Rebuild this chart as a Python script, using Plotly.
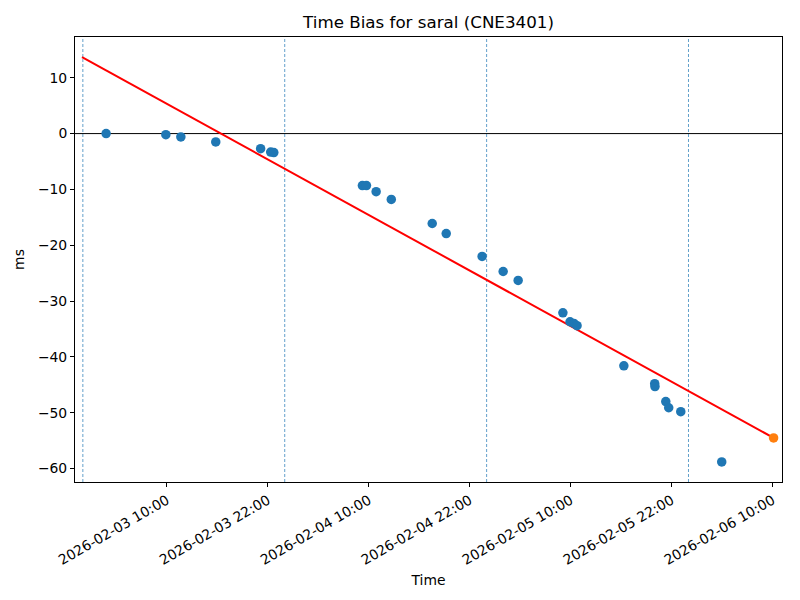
import plotly.graph_objects as go

# Observed time bias samples
times = [
    "2026-02-03 02:46", "2026-02-03 09:52", "2026-02-03 11:39", "2026-02-03 15:48",
    "2026-02-03 21:08", "2026-02-03 22:20", "2026-02-03 22:42", "2026-02-04 09:14",
    "2026-02-04 09:43", "2026-02-04 10:52", "2026-02-04 12:40", "2026-02-04 17:32",
    "2026-02-04 19:12", "2026-02-04 23:28", "2026-02-05 01:58", "2026-02-05 03:45",
    "2026-02-05 09:04", "2026-02-05 09:55", "2026-02-05 10:23", "2026-02-05 10:45",
    "2026-02-05 16:19", "2026-02-05 19:59", "2026-02-05 20:01", "2026-02-05 21:18",
    "2026-02-05 21:39", "2026-02-05 23:05", "2026-02-06 03:57",
]
bias_ms = [
    0.0, -0.2, -0.6, -1.5,
    -2.7, -3.3, -3.4, -9.3,
    -9.3, -10.4, -11.8, -16.1,
    -17.9, -22.0, -24.7, -26.3,
    -32.1, -33.7, -34.0, -34.4,
    -41.6, -44.8, -45.3, -48.0,
    -49.1, -49.8, -58.8,
]

# Latest (predicted) point
latest_time = ["2026-02-06 10:07"]
latest_bias = [-54.5]

# Linear fit line endpoints
fit_times = ["2026-02-02 23:54", "2026-02-06 10:07"]
fit_bias = [13.7, -54.5]

# Midnight markers
midnights = ["2026-02-03 00:00", "2026-02-04 00:00", "2026-02-05 00:00", "2026-02-06 00:00"]

# Axis setup
x_range = ["2026-02-02 23:04", "2026-02-06 11:07"]
y_range = [-62.4, 17.3]
x_tick0 = "2026-02-03 10:00"
y_ticks = [-60, -50, -40, -30, -20, -10, 0, 10]

FONT = "DejaVu Sans"
FS = 13.9

fig = go.Figure()

fig.add_trace(go.Scatter(
    x=fit_times, y=fit_bias, mode="lines",
    line=dict(color="red", width=2), showlegend=False, hoverinfo="skip",
))
fig.add_trace(go.Scatter(
    x=times, y=bias_ms, mode="markers",
    marker=dict(color="#1f77b4", size=9.5, line=dict(width=0)), showlegend=False,
))
fig.add_trace(go.Scatter(
    x=latest_time, y=latest_bias, mode="markers",
    marker=dict(color="#ff7f0e", size=9.5, line=dict(width=0)), showlegend=False,
))

shapes = [dict(type="line", xref="paper", yref="y", x0=0, x1=1, y0=0, y1=0,
               line=dict(color="black", width=1), layer="below")]
for m in midnights:
    shapes.append(dict(type="line", xref="x", yref="paper", x0=m, x1=m, y0=0, y1=1,
                       line=dict(color="#1f77b4", width=0.7, dash="3px,2px"), layer="below"))

fig.update_layout(
    width=800, height=600,
    margin=dict(l=75, r=18, t=37, b=118),
    paper_bgcolor="white", plot_bgcolor="white",
    font=dict(family=FONT, size=FS, color="black"),
    title=dict(text="Time Bias for saral (CNE3401)", x=0.5, xref="paper",
               y=1 - 22 / 600, yref="container", yanchor="middle", xanchor="center",
               font=dict(size=16.7, family=FONT, color="black"), automargin=False),
    shapes=shapes,
    showlegend=False,
)

fig.update_xaxes(
    range=x_range, type="date", automargin=False,
    tick0=x_tick0, dtick=12 * 3600 * 1000, tickformat="%Y-%m-%d %H:%M",
    tickangle=-30, ticks="outside", ticklen=4, tickcolor="black",
    showline=True, linecolor="black", linewidth=1, mirror=True,
    showgrid=False, zeroline=False,
    title=dict(text="Time", font=dict(size=FS, family=FONT), standoff=8),
    tickfont=dict(size=FS, family=FONT),
)
fig.update_yaxes(
    range=y_range, tickvals=y_ticks, automargin=False,
    ticks="outside", ticklen=4, tickcolor="black",
    showline=True, linecolor="black", linewidth=1, mirror=True,
    showgrid=False, zeroline=False,
    title=dict(text="ms", font=dict(size=FS, family=FONT), standoff=10),
    tickfont=dict(size=FS, family=FONT),
)

fig.write_html("out.html", config={"displayModeBar": False},
               post_script="document.body.style.margin='0';")
